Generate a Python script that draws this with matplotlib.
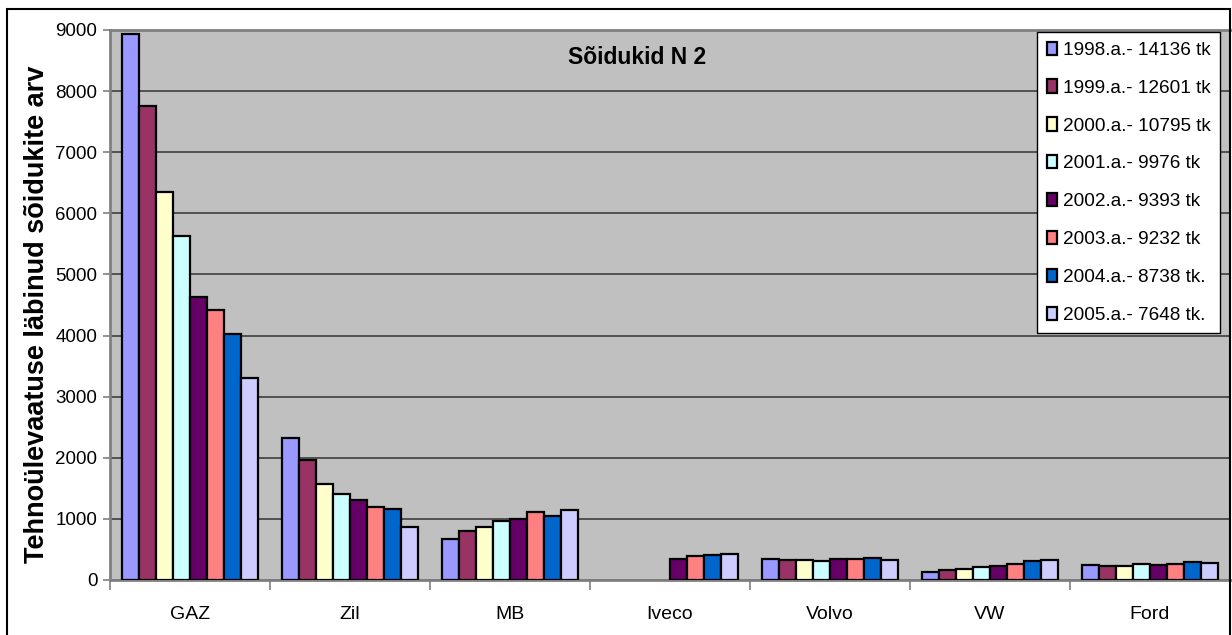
import matplotlib
matplotlib.use("Agg")
import matplotlib.pyplot as plt
import numpy as np
from matplotlib.patches import Rectangle

plt.rcParams['font.family'] = ['Liberation Sans', 'DejaVu Sans']

categories = ["GAZ", "Zil", "MB", "Iveco", "Volvo", "VW", "Ford"]
series_labels = ["1998.a.- 14136 tk", "1999.a.- 12601 tk", "2000.a.- 10795 tk",
                 "2001.a.- 9976 tk", "2002.a.- 9393 tk", "2003.a.- 9232 tk",
                 "2004.a.- 8738 tk.", "2005.a.- 7648 tk."]
v1998 = [8935, 2330, 665, 0, 350, 135, 250]
v1999 = [7750, 1965, 800, 0, 330, 160, 230]
v2000 = [6345, 1565, 860, 0, 335, 180, 230]
v2001 = [5625, 1415, 970, 0, 315, 210, 260]
v2002 = [4630, 1305, 1000, 340, 340, 235, 250]
v2003 = [4415, 1200, 1110, 395, 345, 270, 255]
v2004 = [4030, 1165, 1055, 405, 355, 305, 290]
v2005 = [3300, 860, 1150, 430, 335, 335, 280]
series = [v1998, v1999, v2000, v2001, v2002, v2003, v2004, v2005]
colors = ["#9999FF", "#993366", "#FFFFCC", "#CCFFFF", "#660066", "#FF8080", "#0066CC", "#CCCCFF"]

W, H = 1232, 635
fig = plt.figure(figsize=(W / 100, H / 100), dpi=100)
fig.patch.set_facecolor("white")
ax = fig.add_axes([110 / W, (H - 580) / H, (1230 - 110) / W, (580 - 30) / H])
ax.set_facecolor("#C0C0C0")

x = np.arange(len(categories))
n = len(series)
bw = 0.85 / n
for i, (vals, c, lab) in enumerate(zip(series, colors, series_labels)):
    lws = [1.6 if v > 0 else 0 for v in vals]
    ax.bar(x - 0.425 + bw * (i + 0.5), vals, width=bw, color=c, edgecolor="black",
           linewidth=lws, label=lab, zorder=3)

ax.set_xlim(-0.5, len(categories) - 0.5)
ax.set_ylim(0, 9000)
ax.set_yticks(np.arange(0, 9001, 1000))
ax.yaxis.grid(True, color="#333333", linewidth=1.1, zorder=0)
ax.set_axisbelow(True)
ax.set_xticks(x)
ax.set_xticklabels(categories, fontsize=14)
ax.tick_params(axis='x', length=0, pad=19)
ax.set_xticks(np.arange(-0.5, len(categories) + 0.5, 1), minor=True)
ax.tick_params(axis='x', which='minor', length=7, color="#808080", width=1.2, direction='out')
ax.tick_params(axis='y', labelsize=13.5, length=5, color="#808080", width=1.2, pad=4)
for s in ["left", "bottom", "top"]:
    ax.spines[s].set_color("#808080")
    ax.spines[s].set_linewidth(2)
ax.spines["right"].set_visible(False)

ax.set_ylabel("Tehnoülevaatuse läbinud sõidukite arv", fontsize=19.5, fontweight="bold")
ax.yaxis.set_label_coords((50 - 110) / 1120, (580 - 314) / 550)
fig.text(637 / W, 1 - 58 / H, "Sõidukid N 2", ha="center", va="center",
         fontsize=16.5, fontweight="bold")

leg = ax.legend(loc="upper left", bbox_to_anchor=(1037 / W, 1 - 32 / H), bbox_transform=fig.transFigure,
                prop={'size': 13.7}, frameon=True, fancybox=False,
                edgecolor="black", framealpha=1,
                handlelength=0.55, handleheight=0.7, handletextpad=0.3, labelspacing=1.08,
                borderpad=0.5, borderaxespad=0)
leg.get_frame().set_linewidth(1.0)
for h in leg.legend_handles:
    h.set_linewidth(1.6)

# figure border
fig.add_artist(Rectangle((6.5 / W, -0.01), (1230 - 6.5) / W, (H - 9) / H + 0.01,
                         transform=fig.transFigure, fill=False, edgecolor="black", linewidth=1.5))

fig.savefig("out.png", dpi=100)
